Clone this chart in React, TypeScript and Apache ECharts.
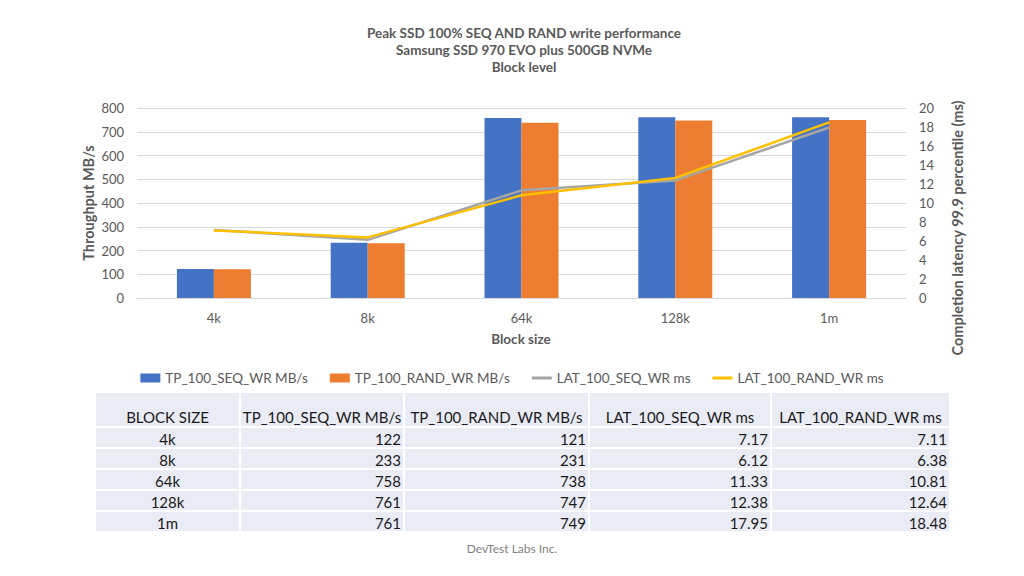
import React, { useEffect, useRef } from "react";
import * as echarts from "echarts";

const categories = ["4k", "8k", "64k", "128k", "1m"];
const tpSeq = [122, 233, 758, 761, 761];
const tpRand = [121, 231, 738, 747, 749];
const latSeq = [7.17, 6.12, 11.33, 12.38, 17.95];
const latRand = [7.11, 6.38, 10.81, 12.64, 18.48];
const seriesNames = ["TP_100_SEQ_WR MB/s", "TP_100_RAND_WR MB/s", "LAT_100_SEQ_WR ms", "LAT_100_RAND_WR ms"];
const tableHeader = ["BLOCK SIZE", ...seriesNames];
const titleLines = ["Peak SSD 100% SEQ AND RAND write performance", "Samsung SSD 970 EVO plus 500GB NVMe", "Block level"];
const leftAxisTitle = "Throughput MB/s";
const rightAxisTitle = "Completion latency 99.9 percentile (ms)";
const xAxisTitle = "Block size";
const footer = "DevTest Labs Inc.";

const FONT = "Lato, 'Open Sans', sans-serif";
const GRAY = "#595959";

export default function App() {
  const ref = useRef<HTMLDivElement>(null);
  useEffect(() => {
    if (!ref.current) return;
    const chart = echarts.init(ref.current, undefined, { renderer: "svg" });

    const colEdges = [95, 240, 404, 589, 771, 950];
    const rowEdges = [392, 427, 448, 469, 490, 511, 532];
    const rows: string[][] = [tableHeader];
    categories.forEach((c, i) => {
      rows.push([c, String(tpSeq[i]), String(tpRand[i]), latSeq[i].toFixed(2), latRand[i].toFixed(2)]);
    });
    const tableEls: any[] = [];
    rows.forEach((row, r) => {
      row.forEach((cell, c) => {
        const x0 = colEdges[c];
        const x1 = colEdges[c + 1];
        const y0 = rowEdges[r];
        const y1 = rowEdges[r + 1];
        tableEls.push({
          type: "rect",
          shape: { x: x0, y: y0, width: x1 - x0, height: y1 - y0 },
          style: { fill: "#e9ebf5", stroke: "#ffffff", lineWidth: 2 },
          silent: true,
        });
        const centered = r === 0 || c === 0;
        tableEls.push({
          type: "text",
          x: centered ? (x0 + x1) / 2 : x1 - 3,
          y: r === 0 ? y1 - 10 : (y0 + y1) / 2 + 1,
          style: {
            text: cell,
            font: `15px ${FONT}`,
            fill: "#1a1a1a",
            align: centered ? "center" : "right",
            verticalAlign: "middle",
          },
          silent: true,
        });
      });
    });

    const titleEls = titleLines.map((t, i) => ({
      type: "text",
      x: 524,
      y: 33 + i * 17,
      style: { text: t, font: `bold 13.5px ${FONT}`, fill: GRAY, align: "center", verticalAlign: "middle" },
      silent: true,
    }));

    const lineIcon = "path://M0 0H20V3H0Z";

    chart.setOption({
      animation: false,
      grid: { left: 137, right: 118, top: 108, height: 190, containLabel: false },
      legend: {
        top: 366,
        left: "center",
        itemWidth: 20,
        itemHeight: 9,
        itemGap: 22,
        textStyle: { color: GRAY, fontSize: 13.5, fontFamily: FONT },
        data: [
          { name: seriesNames[0], icon: "rect" },
          { name: seriesNames[1], icon: "rect" },
          { name: seriesNames[2], icon: lineIcon },
          { name: seriesNames[3], icon: lineIcon },
        ],
      },
      xAxis: {
        type: "category",
        data: categories,
        axisLine: { lineStyle: { color: "#d9d9d9" } },
        axisTick: { show: false },
        axisLabel: { color: GRAY, fontSize: 13, fontFamily: FONT, margin: 13 },
      },
      yAxis: [
        {
          type: "value",
          min: 0,
          max: 800,
          interval: 100,
          axisLine: { show: false },
          axisTick: { show: false },
          splitLine: { lineStyle: { color: "#d9d9d9" } },
          axisLabel: { color: GRAY, fontSize: 13, fontFamily: FONT, margin: 13 },
        },
        {
          type: "value",
          min: 0,
          max: 20,
          interval: 2,
          axisLine: { show: false },
          axisTick: { show: false },
          splitLine: { show: false },
          axisLabel: { color: GRAY, fontSize: 13, fontFamily: FONT, margin: 13 },
        },
      ],
      series: [
        { name: seriesNames[0], type: "bar", data: tpSeq, barWidth: 37, barGap: "0%", itemStyle: { color: "#4472c4" } },
        { name: seriesNames[1], type: "bar", data: tpRand, barWidth: 37, barGap: "0%", itemStyle: { color: "#ed7d31" } },
        {
          name: seriesNames[2], type: "line", yAxisIndex: 1, data: latSeq, symbol: "none",
          lineStyle: { color: "#a5a5a5", width: 2.5 }, itemStyle: { color: "#a5a5a5" },
        },
        {
          name: seriesNames[3], type: "line", yAxisIndex: 1, data: latRand, symbol: "none",
          lineStyle: { color: "#ffc000", width: 2.5 }, itemStyle: { color: "#ffc000" },
        },
      ],
      graphic: [
        ...titleEls,
        {
          type: "text", x: 88, y: 203, rotation: Math.PI / 2,
          style: { text: leftAxisTitle, font: `bold 14.5px ${FONT}`, fill: GRAY, align: "center", verticalAlign: "middle" },
          silent: true,
        },
        {
          type: "text", x: 957, y: 228, rotation: Math.PI / 2,
          style: { text: rightAxisTitle, font: `bold 14.5px ${FONT}`, fill: GRAY, align: "center", verticalAlign: "middle" },
          silent: true,
        },
        {
          type: "text", x: 521, y: 339,
          style: { text: xAxisTitle, font: `bold 13.5px ${FONT}`, fill: GRAY, align: "center", verticalAlign: "middle" },
          silent: true,
        },
        ...tableEls,
        {
          type: "text", x: 512, y: 548,
          style: { text: footer, font: `12px ${FONT}`, fill: "#7f7f7f", align: "center", verticalAlign: "middle" },
          silent: true,
        },
      ],
    });
    return () => chart.dispose();
  }, []);
  return <div ref={ref} style={{ position: "absolute", left: 0, top: 0, width: 1024, height: 576, background: "#fff" }} />;
}
